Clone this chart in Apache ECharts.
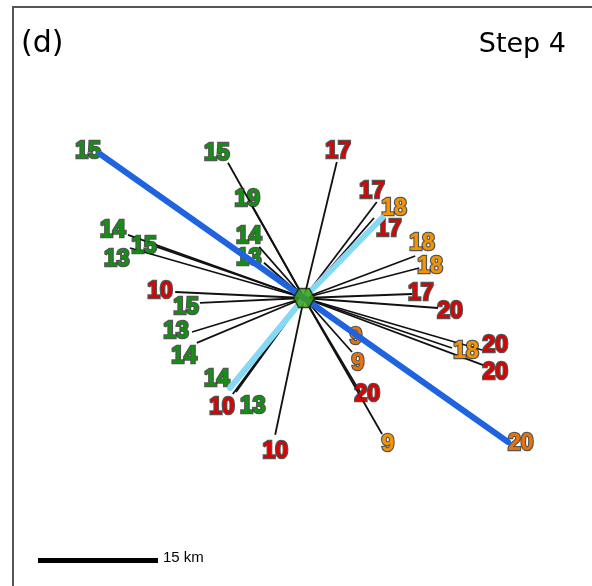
<!DOCTYPE html>
<html><head><meta charset="utf-8">
<script src="https://cdn.jsdelivr.net/npm/echarts@6/dist/echarts.min.js"></script>
<style>html,body{margin:0;padding:0;background:#fff}#c{width:592px;height:586px}</style>
</head><body><div id="c"></div>
<script>
// Station values (label numbers) and class (G green, R red, O orange, D dark orange)
const values  = [15,15,19,14,13,14,15,13,10,15,13,14,14,10,13,10,17,17,18,17,18,18,17,20,20,18,20,9,9,20,9,20];
const classes = ['G','G','G','G','G','G','G','G','R','G','G','G','G','R','G','R','R','R','O','R','O','O','R','R','R','O','R','D','D','R','O','D'];
// Station positions in km relative to the central hexagon
const endX = [-25.5,-9.5,-6.5,-5.6,-5.0,-22.0,-18.4,-21.75,-16.1,-13.0,-14.0,-13.4,-9.25,-8.9,-8.5,-3.6,4.1,9.1,8.75,9.75,13.9,14.4,13.5,16.75,22.25,18.5,22.4,5.75,6.0,7.0,9.75,25.5];
const endY = [18.0,16.9,11.5,6.4,4.4,7.9,6.4,6.25,0.75,-0.6,-4.25,-5.6,-11.25,-12.0,-11.75,-17.1,17.0,12.0,10.0,10.0,5.25,3.75,0.5,-1.25,-6.5,-6.25,-8.4,-4.0,-6.75,-11.75,-17.0,-18.0];
// Label anchor positions in km
const labelX = [-27.0,-10.9,-7.1,-6.9,-6.9,-23.9,-20.0,-23.4,-18.0,-14.75,-16.0,-15.0,-10.9,-10.25,-6.4,-3.6,4.25,8.5,11.25,10.6,14.75,15.75,14.6,18.25,23.9,20.25,23.9,6.5,6.75,7.9,10.5,27.1];
const labelY = [18.3,18.1,12.3,7.7,4.9,8.4,6.4,4.8,0.8,-1.2,-4.2,-7.3,-10.2,-13.7,-13.6,-19.2,18.3,13.3,11.2,8.55,6.8,3.9,0.55,-1.7,-5.95,-6.7,-9.3,-4.95,-8.2,-12.1,-18.3,-18.2];
// Highlighted links (indices into the station arrays)
const darkBlueLinks = [0, 31];
const lightBlueLinks = [12, 19];
// Scale bar
const scaleKm = 15;
const scaleStart = [-33.25, -32.75];
const centre = [0, 0];

const classColor = {G:'#129012', R:'#dc0000', O:'#f89600', D:'#ec7406'};

const chart = echarts.init(document.getElementById('c'), null, {renderer:'canvas'});

const linkData = endX.map((x,i)=>({coords:[centre,[x,endY[i]]]}));
const dark = darkBlueLinks.map(i=>({coords:[centre,[endX[i],endY[i]]]}));
const light = lightBlueLinks.map(i=>({coords:[centre,[endX[i],endY[i]]]}));

function labelLayer(k, outline, z){
  return {
    type:'scatter', z:z, symbolSize:1, silent:true,
    itemStyle:{color:'rgba(0,0,0,0)'},
    data: values.map((v,i)=>classes[i]===k?[labelX[i],labelY[i],v]:null).filter(d=>d),
    label:Object.assign({show:true, position:'inside', formatter:p=>String(p.value[2]),
      color:classColor[k], fontFamily:'Liberation Sans', fontWeight:'bold', fontSize:23},
      outline?{textBorderColor:'#2a2a2a', textBorderWidth:2.6}:{textBorderWidth:0})
  };
}
const labelSeries = [];
Object.keys(classColor).forEach(k=>{labelSeries.push(labelLayer(k,true,3)); labelSeries.push(labelLayer(k,false,3.5));});

chart.setOption({
  animation:false,
  grid:{left:0,right:0,top:0,bottom:0},
  xAxis:{type:'value', min:-38, max:36, show:false},
  yAxis:{type:'value', min:-36, max:37.25, show:false},
  graphic:[
    {type:'line', shape:{x1:13,y1:7,x2:13,y2:586}, style:{stroke:'#555',lineWidth:2}, z:10},
    {type:'line', shape:{x1:12,y1:7,x2:592,y2:7}, style:{stroke:'#555',lineWidth:2}, z:10},
    {type:'text', left:21, top:29, style:{text:'(d)', font:'30px "DejaVu Sans"', fill:'#000'}, z:10},
    {type:'text', right:26, top:31, style:{text:'Step 4', font:'27px "DejaVu Sans"', fill:'#000'}, z:10},
    {type:'text', left:163, top:550, style:{text:'15 km', font:'15px "Liberation Sans"', fill:'#000'}, z:10}
  ],
  series:[
    {type:'lines', coordinateSystem:'cartesian2d', z:2, silent:true,
      lineStyle:{color:'#111', width:1.8, opacity:1}, data:linkData},
    ...labelSeries,
    {type:'lines', coordinateSystem:'cartesian2d', z:4, silent:true,
      lineStyle:{color:'#86d8f7', width:6, opacity:1, cap:'round'}, data:light},
    {type:'lines', coordinateSystem:'cartesian2d', z:5, silent:true,
      lineStyle:{color:'#1f64de', width:6, opacity:1, cap:'round'}, data:dark},
    {type:'lines', coordinateSystem:'cartesian2d', z:5, silent:true,
      lineStyle:{color:'#000', width:5, opacity:1},
      data:[{coords:[scaleStart,[scaleStart[0]+scaleKm, scaleStart[1]]]}]},
    {type:'scatter', z:6, silent:true, data:[centre],
      symbol:'path://M-1,0 L-0.5,-0.866 L0.5,-0.866 L1,0 L0.5,0.866 L-0.5,0.866 Z',
      symbolSize:[21,19],
      itemStyle:{color:'#3ca010', borderColor:'#0d1f00', borderWidth:1.4}}
  ]
});
</script></body></html>
